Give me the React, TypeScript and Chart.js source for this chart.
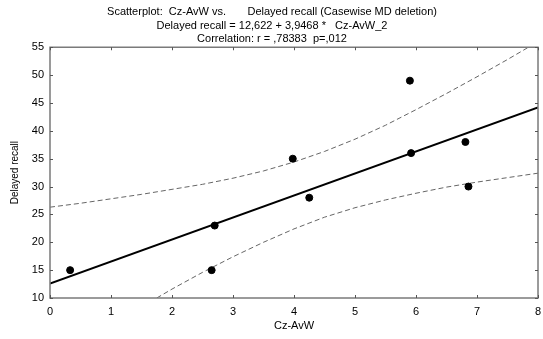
import React, { useEffect, useRef } from "react";
import { Chart, registerables } from "chart.js";

Chart.register(...registerables);

// Observed cases
const czAvw = [0.33, 2.65, 2.7, 3.98, 4.25, 5.9, 5.92, 6.81, 6.86];
const delayedRecall = [15, 15, 23, 35, 28, 49, 36, 38, 30];

// Regression line (from title equation) endpoints
const regX = [0, 8];
const regY = [12.6, 44.2];

// 95% confidence bands
const upperX = [0, 0.5, 1, 1.5, 2, 2.5, 3, 3.5, 4, 4.5, 5, 5.5, 6, 6.5, 7, 7.5, 8];
const upperY = [26.3, 27.0, 27.8, 28.6, 29.5, 30.4, 31.5, 32.8, 34.4, 36.3, 38.5, 41.0, 43.8, 46.7, 49.7, 52.8, 56.0];
const lowerX = [1.75, 2, 2.5, 3, 3.5, 4, 4.5, 5, 5.5, 6, 6.5, 7, 7.5, 8];
const lowerY = [10.0, 11.6, 14.6, 17.4, 20.0, 22.4, 24.5, 26.2, 27.6, 28.8, 29.9, 30.8, 31.6, 32.4];

const xTicks = [0, 1, 2, 3, 4, 5, 6, 7, 8];
const yTicks = [10, 15, 20, 25, 30, 35, 40, 45, 50, 55];

const titleLines = [
  "Scatterplot:  Cz-AvW vs.       Delayed recall (Casewise MD deletion)",
  "Delayed recall = 12,622 + 3,9468 *   Cz-AvW_2",
  "Correlation: r = ,78383  p=,012",
];

const FONT = "'Liberation Sans', Arial, sans-serif";

const pairs = (xs: number[], ys: number[]) => xs.map((x, i) => ({ x, y: ys[i] }));

const framePlugin = {
  id: "frame",
  afterDatasetsDraw(chart: any) {
    const { ctx, chartArea } = chart;
    const xs = chart.scales.x;
    const ys = chart.scales.y;
    ctx.save();
    ctx.strokeStyle = "#7a7a7a";
    ctx.lineWidth = 1.5;
    ctx.strokeRect(chartArea.left, chartArea.top, chartArea.right - chartArea.left, chartArea.bottom - chartArea.top);
    ctx.lineWidth = 1;
    ctx.strokeStyle = "#555";
    const tl = 3;
    xTicks.forEach((v) => {
      const px = Math.round(xs.getPixelForValue(v)) + 0.5;
      ctx.beginPath();
      ctx.moveTo(px, chartArea.bottom);
      ctx.lineTo(px, chartArea.bottom - tl);
      ctx.moveTo(px, chartArea.top);
      ctx.lineTo(px, chartArea.top + tl);
      ctx.stroke();
    });
    yTicks.forEach((v) => {
      const py = Math.round(ys.getPixelForValue(v)) + 0.5;
      ctx.beginPath();
      ctx.moveTo(chartArea.left, py);
      ctx.lineTo(chartArea.left + tl, py);
      ctx.moveTo(chartArea.right, py);
      ctx.lineTo(chartArea.right - tl, py);
      ctx.stroke();
    });
    ctx.restore();
  },
};

export default function App() {
  const ref = useRef<HTMLCanvasElement>(null);
  useEffect(() => {
    if (!ref.current) return;
    const chart = new Chart(ref.current, {
      type: "scatter",
      data: {
        datasets: [
          {
            label: "cases",
            data: pairs(czAvw, delayedRecall),
            pointRadius: 3.5,
            pointBorderWidth: 1,
            pointBackgroundColor: "#000",
            pointBorderColor: "#000",
            showLine: false,
            order: 0,
          },
          {
            label: "fit",
            data: pairs(regX, regY),
            showLine: true,
            borderColor: "#000",
            borderWidth: 2,
            pointRadius: 0,
            order: 1,
          },
          {
            label: "upper",
            data: pairs(upperX, upperY),
            showLine: true,
            borderColor: "#666",
            borderWidth: 1,
            borderDash: [5, 3],
            pointRadius: 0,
            order: 2,
          },
          {
            label: "lower",
            data: pairs(lowerX, lowerY),
            showLine: true,
            borderColor: "#666",
            borderWidth: 1,
            borderDash: [5, 3],
            pointRadius: 0,
            order: 2,
          },
        ],
      },
      options: {
        responsive: false,
        animation: false,
        layout: { padding: { left: 5, right: 4, top: 0, bottom: 0 } },
        plugins: {
          legend: { display: false },
          tooltip: { enabled: false },
          title: {
            display: true,
            text: titleLines,
            color: "#000",
            font: { family: FONT, size: 11, weight: "normal", lineHeight: 1.25 },
            padding: { top: 5, bottom: 1 },
          },
        },
        scales: {
          x: {
            type: "linear",
            min: 0,
            max: 8,
            grid: { display: false, drawTicks: false },
            border: { display: false },
            afterBuildTicks: (s: any) => {
              s.ticks = xTicks.map((v) => ({ value: v }));
            },
            afterFit: (s: any) => {
              s.height = 41;
              s.paddingLeft = 0;
              s.paddingRight = 0;
            },
            ticks: { color: "#000", font: { family: FONT, size: 11 }, padding: 7, maxRotation: 0 },
            title: {
              display: true,
              text: "Cz-AvW",
              color: "#000",
              font: { family: FONT, size: 11 },
              padding: { top: 0, bottom: 6 },
            },
          },
          y: {
            type: "linear",
            min: 10,
            max: 55,
            grid: { display: false, drawTicks: false },
            border: { display: false },
            afterBuildTicks: (s: any) => {
              s.ticks = yTicks.map((v) => ({ value: v }));
            },
            afterFit: (s: any) => {
              s.width = 45;
              s.paddingTop = 0;
              s.paddingBottom = 0;
            },
            ticks: { color: "#000", font: { family: FONT, size: 11 }, padding: 6 },
            title: {
              display: true,
              text: "Delayed recall",
              color: "#000",
              font: { family: FONT, size: 10 },
              padding: { top: 4, bottom: 4 },
            },
          },
        },
      },
      plugins: [framePlugin],
    });
    return () => chart.destroy();
  }, []);
  return (
    <div style={{ position: "fixed", left: 0, top: 0, width: 543, height: 339, background: "#fff" }}>
      <canvas ref={ref} width={543} height={339} style={{ width: 543, height: 339 }} />
    </div>
  );
}
